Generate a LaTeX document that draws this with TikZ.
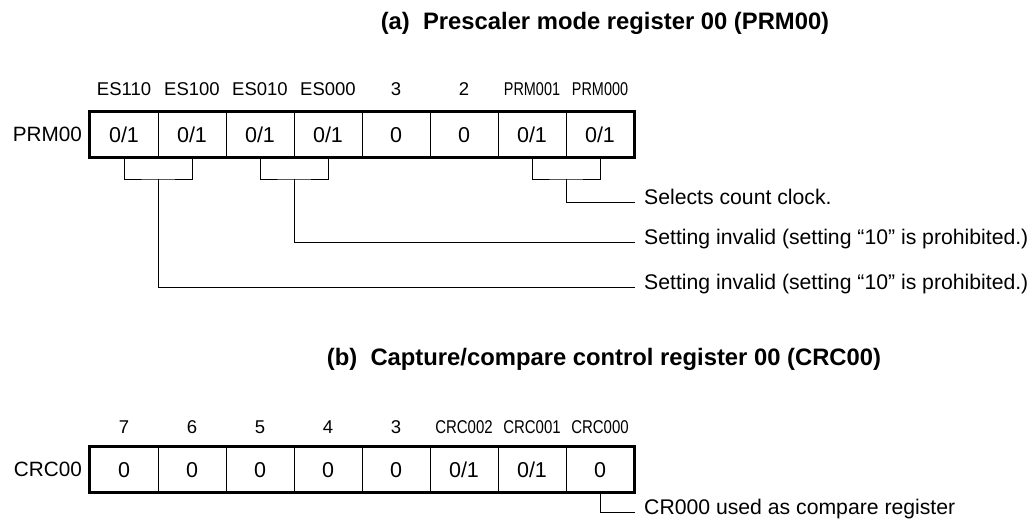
\documentclass[tikz,border=0pt]{standalone}
\usepackage{graphicx}
\usepackage{fontspec}
\setmainfont{Liberation Sans}
\begin{document}
\begin{tikzpicture}[x=1pt,y=-1pt,
  cell/.style={draw,line width=0.8pt,minimum width=68pt,minimum height=45pt,inner sep=0pt,text height=15.4pt,text depth=0pt,font=\fontsize{21.5}{24}\selectfont},
  frame/.style={line width=2.4pt},
  bitlab/.style={anchor=base,inner sep=0pt,font=\fontsize{18.5}{20}\selectfont},
  regname/.style={anchor=east,inner sep=0pt,text height=14.8pt,text depth=0pt,font=\fontsize{20.7}{24}\selectfont},
  title/.style={anchor=base,inner sep=0pt,font=\fontsize{23.8}{26}\selectfont\bfseries},
  note/.style={anchor=mid west,inner sep=0pt,font=\fontsize{21.2}{24}\selectfont},
  conn/.style={line width=0.9pt}]
\useasboundingbox (0,0) rectangle (1033,526);

% ---------- (a) ----------
\node[title] (ta) at (605,30) {(a)\ \ Prescaler mode register 00 (PRM00)};
\foreach \i/\v in {1/0\slash 1,2/0\slash 1,3/0\slash 1,4/0\slash 1,5/0,6/0,7/0\slash 1,8/0\slash 1}
  \node[cell] (a\i) at ({90+68*(\i-0.5)},134.5) {\v};
\draw[frame] (a1.north west) rectangle (a8.south east);
\node[regname] (ra) at (82,134.5) {PRM00};
\node[bitlab] (la1) at (124,96) {ES110};
\node[bitlab] (la2) at (192,96) {ES100};
\node[bitlab] (la3) at (260,96) {ES010};
\node[bitlab] (la4) at (328,96) {ES000};
\node[bitlab] (la5) at (396,96) {3};
\node[bitlab] (la6) at (464,96) {2};
\node[bitlab] (la7) at (532,96) {\scalebox{0.78}[1]{PRM001}};
\node[bitlab] (la8) at (600,96) {\scalebox{0.78}[1]{PRM000}};

\node[note] (n1) at (644,202) {Selects count clock.};
\node[note] (n2) at (644,242) {Setting invalid (setting “10” is prohibited.)};
\node[note] (n3) at (644,287) {Setting invalid (setting “10” is prohibited.)};

\coordinate (k1) at (158,179);
\coordinate (k2) at (294,179);
\coordinate (k3) at (566,179);
\draw[conn] (a1.south) |- (k1) -| (a2.south);
\draw[conn] (a3.south) |- (k2) -| (a4.south);
\draw[conn] (a7.south) |- (k3) -| (a8.south);
\draw[conn,shorten >=9pt] (k3) |- (n1.mid west);
\draw[conn,shorten >=9pt] (k2) |- (n2.mid west);
\draw[conn,shorten >=9pt] (k1) |- (n3.mid west);

% ---------- (b) ----------
\node[title] (tb) at (604,366) {(b)\ \ Capture/compare control register 00 (CRC00)};
\foreach \i/\v in {1/0,2/0,3/0,4/0,5/0,6/0\slash 1,7/0\slash 1,8/0}
  \node[cell] (b\i) at ({90+68*(\i-0.5)},469.5) {\v};
\draw[frame] (b1.north west) rectangle (b8.south east);
\node[regname] (rb) at (82,469.5) {CRC00};
\node[bitlab] (lb1) at (124,433) {7};
\node[bitlab] (lb2) at (192,433) {6};
\node[bitlab] (lb3) at (260,433) {5};
\node[bitlab] (lb4) at (328,433) {4};
\node[bitlab] (lb5) at (396,433) {3};
\node[bitlab] (lb6) at (464,433) {\scalebox{0.81}[1]{CRC002}};
\node[bitlab] (lb7) at (532,433) {\scalebox{0.81}[1]{CRC001}};
\node[bitlab] (lb8) at (600,433) {\scalebox{0.81}[1]{CRC000}};

\node[note] (n4) at (644,512) {CR000 used as compare register};
\draw[conn,shorten >=9pt] (b8.south) |- (n4.mid west);
\end{tikzpicture}
\end{document}
